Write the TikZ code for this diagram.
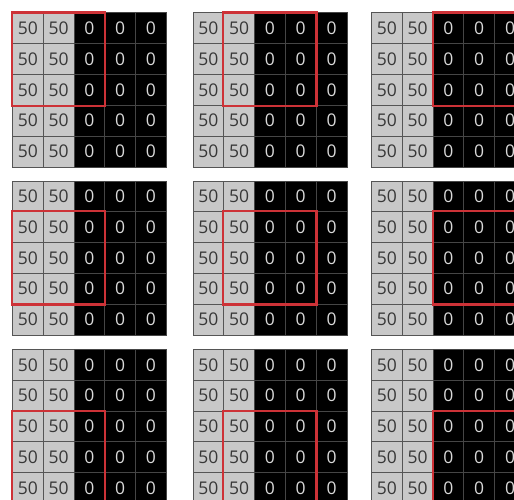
\documentclass[tikz,border=0pt]{standalone}
\usepackage{fontspec}
\setsansfont{Open Sans}
\usetikzlibrary{positioning}

\definecolor{cellgray}{RGB}{200,200,200}
\definecolor{linegray}{RGB}{85,85,85}
\definecolor{darkline}{RGB}{70,70,70}
\definecolor{winred}{RGB}{205,50,55}
\definecolor{numgray}{RGB}{55,55,55}

\begin{document}
\begin{tikzpicture}[
  x=1pt, y=-1pt,
  cell/.style ={draw=linegray, line width=0.8pt, minimum size=30.8pt,
                inner sep=0pt, anchor=north west,
                font=\sffamily\fontsize{17.5}{17.5}\selectfont},
  high/.style ={cell, fill=cellgray, text=numgray},
  low/.style  ={cell, fill=black, draw=darkline, text=white!85!black},
  window/.style={draw=winred, line width=2.2pt},
]
\useasboundingbox (0,0) rectangle (514,500);
\clip (0,0) rectangle (514,500);

% ================= 3 x 3 panels, one window position each =================
\foreach \r/\gy in {0/12.5, 1/180.5, 2/349}{
  \foreach \c/\gx in {0/12, 1/192.5, 2/371}{
    % 5 x 5 image: two columns of 50, three of 0
    \foreach \i in {0,...,4}{
      \foreach \j in {0,...,4}{
        \ifnum\j<2
          \node[high] (g\r\c-\i\j) at (\gx+30.8*\j, \gy+30.8*\i) {50};
        \else
          \node[low]  (g\r\c-\i\j) at (\gx+30.8*\j, \gy+30.8*\i) {0};
        \fi
      }
    }
    % 3 x 3 window
    \pgfmathtruncatemacro{\re}{\r+2}
    \pgfmathtruncatemacro{\ce}{\c+2}
    \draw[window] (g\r\c-\r\c.north west) rectangle (g\r\c-\re\ce.south east);
  }
}

\end{tikzpicture}
\end{document}
